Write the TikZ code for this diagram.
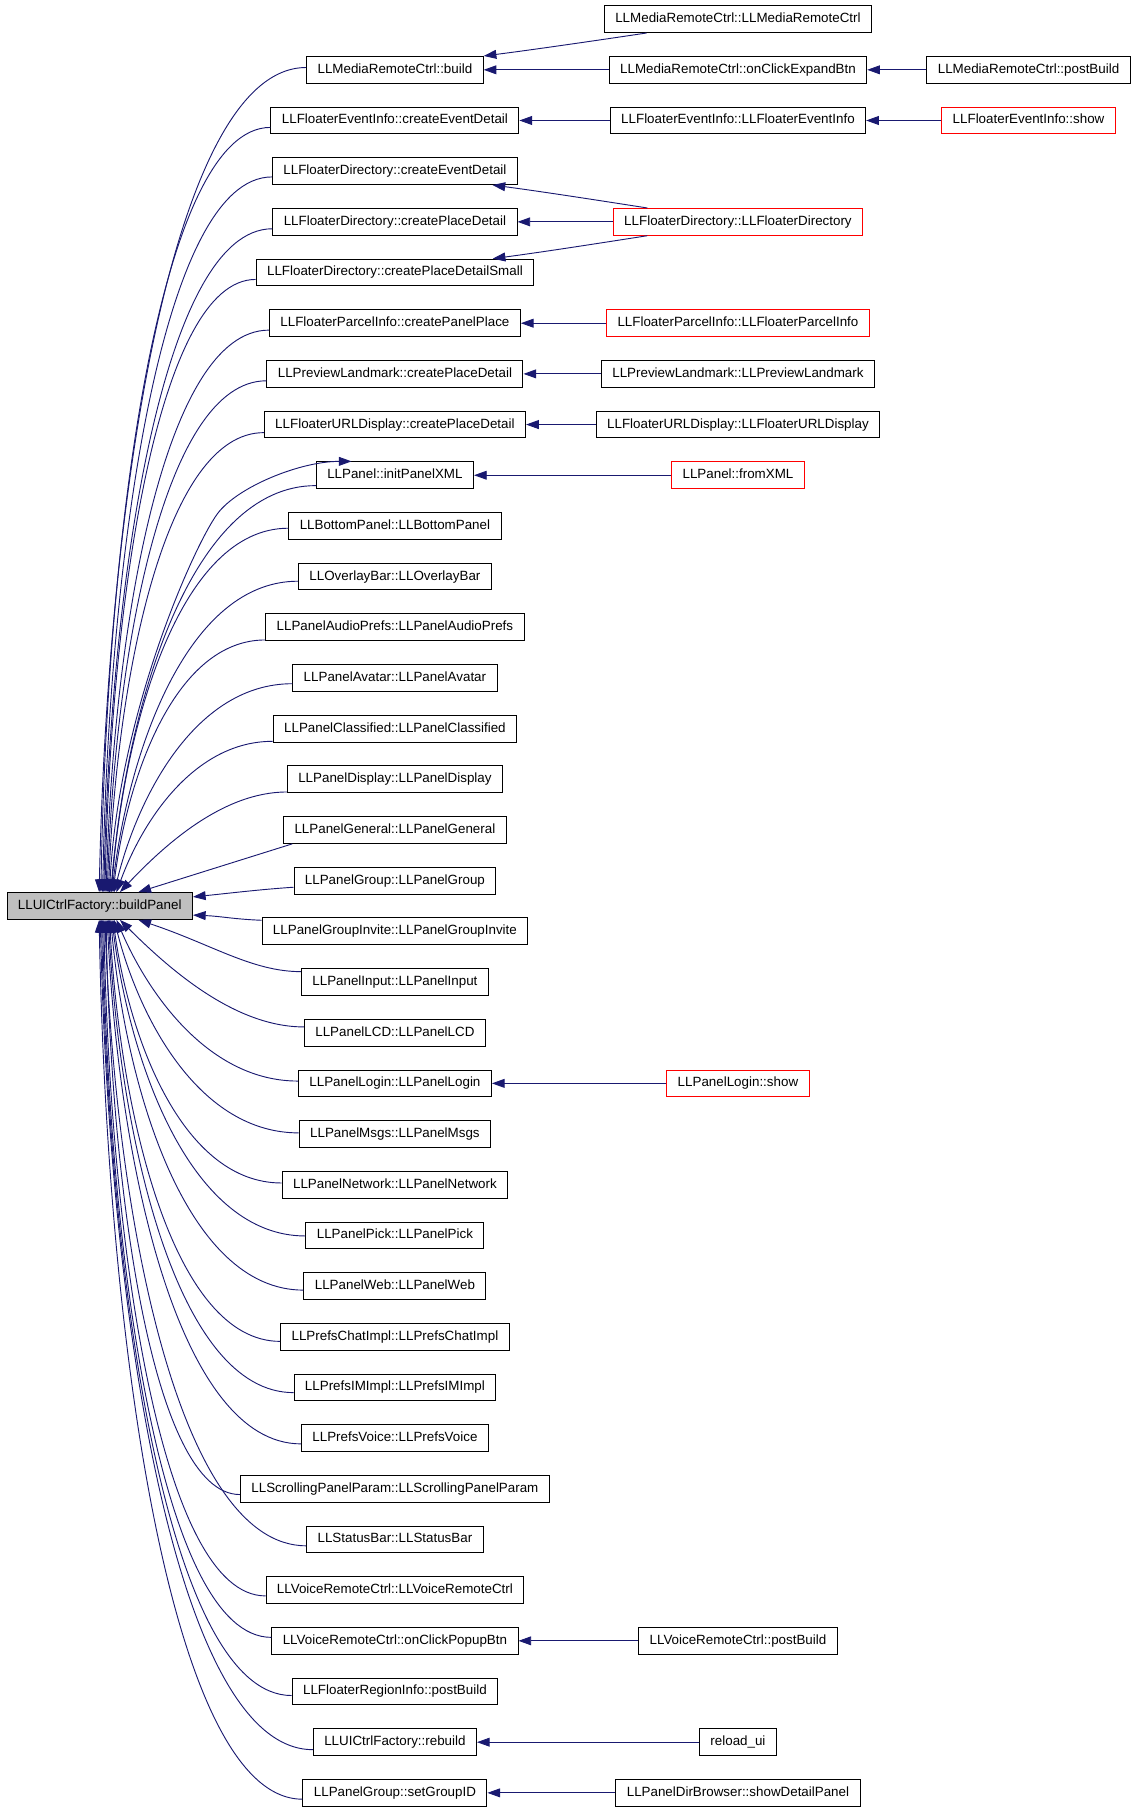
\documentclass[tikz,border=0pt]{standalone}
\usepackage{fontspec}
\setmainfont{Liberation Sans}
\usetikzlibrary{arrows.meta,calc}
\definecolor{edgeblue}{RGB}{25,25,112}
\definecolor{bpgray}{RGB}{191,191,191}
\tikzset{
 nbox/.style={draw=black, line width=0.85pt, fill=white, minimum height=23.2pt, inner xsep=9.5pt, inner ysep=0pt, text height=8.4pt, text depth=2.4pt, font=\fontsize{11.6pt}{13pt}\selectfont},
 redbox/.style={nbox, draw=red},
 focusbox/.style={nbox, fill=bpgray},
 conn/.style={draw=edgeblue, line width=0.8pt, -{Triangle[length=11pt,width=7.7pt]}},
}
\newcommand\rowy[1]{-(16.6+43.95*#1)}
\newcommand\upedge[3]{%
 \draw[conn] let \p1=($(#1.west)+(0,{-1*(#3)})$), \p2=($(bp.north)+({#2-86.5},0)$),
   \n1={\x1-\x2}, \n2={\y1-\y2},
   \n3={min(0.45,0.16*\n1/\n2)*\n1}, \n4={max(0.3,0.7-0.19*\n1/\n2)*\n1}
 in (\p1) .. controls ({\x1-\n4},\y1) and ({\x2+\n3},{\y2+0.47*\n2}) .. (\p2);}
\newcommand\downedge[3]{%
 \draw[conn] let \p1=($(#1.west)+(0,{-1*(#3)})$), \p2=($(bp.south)+({#2-86.5},0)$),
   \n1={\x1-\x2}, \n2={\y2-\y1},
   \n3={min(0.45,0.16*\n1/\n2)*\n1}, \n4={max(0.3,0.7-0.19*\n1/\n2)*\n1}
 in (\p1) .. controls ({\x1-\n4},\y1) and ({\x2+\n3},{\y2-0.47*\n2}) .. (\p2);}
\begin{document}
\begin{tikzpicture}[x=1pt,y=1pt]
\useasboundingbox (0,0) rectangle (985.3,-1570.6);
% nodes
\node[nbox] (mctor) at (640,{\rowy{0}}) {LLMediaRemoteCtrl::LLMediaRemoteCtrl};
\node[nbox] (mbuild) at (342.5,{\rowy{1}}) {LLMediaRemoteCtrl::build};
\node[nbox] (mexp) at (640,{\rowy{1}}) {LLMediaRemoteCtrl::onClickExpandBtn};
\node[nbox] (mpost) at (892,{\rowy{1}}) {LLMediaRemoteCtrl::postBuild};
\node[nbox] (feced) at (342.5,{\rowy{2}}) {LLFloaterEventInfo::createEventDetail};
\node[nbox] (fector) at (640,{\rowy{2}}) {LLFloaterEventInfo::LLFloaterEventInfo};
\node[redbox] (feshow) at (892,{\rowy{2}}) {LLFloaterEventInfo::show};
\node[nbox] (fdced) at (342.5,{\rowy{3}}) {LLFloaterDirectory::createEventDetail};
\node[nbox] (fdcpd) at (342.5,{\rowy{4}}) {LLFloaterDirectory::createPlaceDetail};
\node[redbox] (fdctor) at (640,{\rowy{4}}) {LLFloaterDirectory::LLFloaterDirectory};
\node[nbox] (fdcpds) at (342.5,{\rowy{5}}) {LLFloaterDirectory::createPlaceDetailSmall};
\node[nbox] (fpcpp) at (342.5,{\rowy{6}}) {LLFloaterParcelInfo::createPanelPlace};
\node[redbox] (fpctor) at (640,{\rowy{6}}) {LLFloaterParcelInfo::LLFloaterParcelInfo};
\node[nbox] (plcpd) at (342.5,{\rowy{7}}) {LLPreviewLandmark::createPlaceDetail};
\node[nbox] (plctor) at (640,{\rowy{7}}) {LLPreviewLandmark::LLPreviewLandmark};
\node[nbox] (fucpd) at (342.5,{\rowy{8}}) {LLFloaterURLDisplay::createPlaceDetail};
\node[nbox] (fuctor) at (640,{\rowy{8}}) {LLFloaterURLDisplay::LLFloaterURLDisplay};
\node[nbox] (pipx) at (342.5,{\rowy{9}}) {LLPanel::initPanelXML};
\node[redbox] (pfx) at (640,{\rowy{9}}) {LLPanel::fromXML};
\node[nbox] (bottom) at (342.5,{\rowy{10}}) {LLBottomPanel::LLBottomPanel};
\node[nbox] (overlay) at (342.5,{\rowy{11}}) {LLOverlayBar::LLOverlayBar};
\node[nbox] (audio) at (342.5,{\rowy{12}}) {LLPanelAudioPrefs::LLPanelAudioPrefs};
\node[nbox] (avatar) at (342.5,{\rowy{13}}) {LLPanelAvatar::LLPanelAvatar};
\node[nbox] (classified) at (342.5,{\rowy{14}}) {LLPanelClassified::LLPanelClassified};
\node[nbox] (display) at (342.5,{\rowy{15}}) {LLPanelDisplay::LLPanelDisplay};
\node[nbox] (general) at (342.5,{\rowy{16}}) {LLPanelGeneral::LLPanelGeneral};
\node[nbox] (pgroup) at (342.5,{\rowy{17}}) {LLPanelGroup::LLPanelGroup};
\node[focusbox] (bp) at (86.5,{\rowy{17.5}}) {LLUICtrlFactory::buildPanel};
\node[nbox] (invite) at (342.5,{\rowy{18}}) {LLPanelGroupInvite::LLPanelGroupInvite};
\node[nbox] (input) at (342.5,{\rowy{19}}) {LLPanelInput::LLPanelInput};
\node[nbox] (lcd) at (342.5,{\rowy{20}}) {LLPanelLCD::LLPanelLCD};
\node[nbox] (login) at (342.5,{\rowy{21}}) {LLPanelLogin::LLPanelLogin};
\node[redbox] (loginshow) at (640,{\rowy{21}}) {LLPanelLogin::show};
\node[nbox] (msgs) at (342.5,{\rowy{22}}) {LLPanelMsgs::LLPanelMsgs};
\node[nbox] (network) at (342.5,{\rowy{23}}) {LLPanelNetwork::LLPanelNetwork};
\node[nbox] (pick) at (342.5,{\rowy{24}}) {LLPanelPick::LLPanelPick};
\node[nbox] (web) at (342.5,{\rowy{25}}) {LLPanelWeb::LLPanelWeb};
\node[nbox] (chat) at (342.5,{\rowy{26}}) {LLPrefsChatImpl::LLPrefsChatImpl};
\node[nbox] (im) at (342.5,{\rowy{27}}) {LLPrefsIMImpl::LLPrefsIMImpl};
\node[nbox] (voice) at (342.5,{\rowy{28}}) {LLPrefsVoice::LLPrefsVoice};
\node[nbox] (scroll) at (342.5,{\rowy{29}}) {LLScrollingPanelParam::LLScrollingPanelParam};
\node[nbox] (status) at (342.5,{\rowy{30}}) {LLStatusBar::LLStatusBar};
\node[nbox] (vrc) at (342.5,{\rowy{31}}) {LLVoiceRemoteCtrl::LLVoiceRemoteCtrl};
\node[nbox] (popup) at (342.5,{\rowy{32}}) {LLVoiceRemoteCtrl::onClickPopupBtn};
\node[nbox] (vrcpost) at (640,{\rowy{32}}) {LLVoiceRemoteCtrl::postBuild};
\node[nbox] (region) at (342.5,{\rowy{33}}) {LLFloaterRegionInfo::postBuild};
\node[nbox] (rebuild) at (342.5,{\rowy{34}}) {LLUICtrlFactory::rebuild};
\node[nbox] (reload) at (640,{\rowy{34}}) {reload\_ui};
\node[nbox] (setgid) at (342.5,{\rowy{35}}) {LLPanelGroup::setGroupID};
\node[nbox] (showdp) at (640,{\rowy{35}}) {LLPanelDirBrowser::showDetailPanel};
% straight edges
\draw[conn] (mexp.west) -- (mbuild.east);
\draw[conn] (mpost.west) -- (mexp.east);
\draw[conn] (fector.west) -- (feced.east);
\draw[conn] (feshow.west) -- (fector.east);
\draw[conn] (fdctor.west) -- (fdcpd.east);
\draw[conn] (fpctor.west) -- (fpcpp.east);
\draw[conn] (plctor.west) -- (plcpd.east);
\draw[conn] (fuctor.west) -- (fucpd.east);
\draw[conn] (pfx.west) -- (pipx.east);
\draw[conn] (loginshow.west) -- (login.east);
\draw[conn] (vrcpost.west) -- (popup.east);
\draw[conn] (reload.west) -- (rebuild.east);
\draw[conn] (showdp.west) -- (setgid.east);
% slanted edges
\draw[conn] ($(mctor.south west)+(37,0)$) .. controls +(-40,-6) and +(40,5) .. (mbuild.north east);
\draw[conn] ($(fdctor.north west)+(30,0)$) .. controls +(-45,7) and +(45,-6) .. ($(fdced.south east)+(-22,0)$);
\draw[conn] ($(fdctor.south west)+(30,0)$) .. controls +(-45,-7) and +(45,6) .. ($(fdcpds.north east)+(-36,0)$);
% edges into buildPanel from above
\upedge{mbuild}{86}{-2}
\upedge{feced}{87.5}{6}
\upedge{fdced}{89}{5}
\upedge{fdcpd}{90}{6}
\upedge{fdcpds}{91}{6}
\upedge{fpcpp}{92}{6}
\upedge{plcpd}{93}{6}
\upedge{fucpd}{94}{7}
\upedge{pipx}{96}{9}
\upedge{bottom}{96.5}{2}
\upedge{overlay}{97}{4}
\upedge{audio}{98}{11}
\upedge{avatar}{99}{5}
\upedge{classified}{101}{11}
\upedge{display}{104}{11}
\draw[conn] ($(general.south west)+(8,0)$) -- ($(bp.north)+(33.5,0)$);
% recursive edge to initPanelXML
\draw[conn] ($(bp.north)+(8.5,0)$) .. controls +(5,150) and +(-20,-27) .. ($(pipx.north west)+(-85.3,-45.4)$) .. controls +(17,23) and +(-45,0) .. ($(pipx.north west)+(31,0)$);
% side edges
\draw[conn] ($(pgroup.west)+(0,-5.7)$) .. controls +(-30,-2) and +(30,3) .. ($(bp.east)+(0,7.9)$);
\draw[conn] ($(invite.west)+(0,9.6)$) .. controls +(-25,1) and +(25,-1) .. ($(bp.east)+(0,-7.9)$);
% edges into buildPanel from below
\downedge{input}{120}{-9}
\downedge{lcd}{104}{-5}
\downedge{login}{101}{-2}
\downedge{msgs}{99}{-1}
\downedge{network}{98}{-1.5}
\downedge{pick}{97}{0.5}
\downedge{web}{96}{3.5}
\downedge{chat}{95}{4}
\downedge{im}{94}{4.5}
\downedge{voice}{93}{5}
\downedge{scroll}{92}{5}
\downedge{status}{91}{5.5}
\downedge{vrc}{90}{5}
\downedge{popup}{89}{-3}
\downedge{region}{88}{3.5}
\downedge{rebuild}{87}{6.5}
\downedge{setgid}{86}{5.5}
\end{tikzpicture}
\end{document}
